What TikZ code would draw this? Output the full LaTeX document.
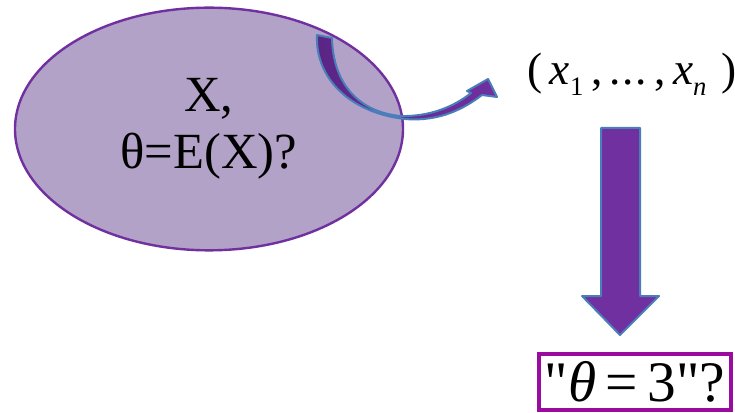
\documentclass[tikz,border=0pt]{standalone}
\usepackage{fontspec}
\setmainfont{Liberation Serif}
\usetikzlibrary{shapes.geometric}
\definecolor{PopFill}{HTML}{B3A2C7}
\definecolor{DeepPurple}{HTML}{7030A0}
\definecolor{DarkPlum}{HTML}{5A2585}
\definecolor{EdgeBlue}{HTML}{4A7EBB}
\definecolor{BoxMagenta}{HTML}{9A0CA0}
\newcommand\lowsub[1]{\raisebox{-0.55ex}{\fontsize{20}{20}\selectfont #1}}

\begin{document}
\begin{tikzpicture}[x=0.75pt, y=-0.75pt,
    every node/.style={align=center, inner sep=0pt},
    fatarrow/.style={draw=EdgeBlue, line width=1.5pt, line join=round}]
  \useasboundingbox (0,0) rectangle (735,413);
  % population
  \node[ellipse, draw=DeepPurple, line width=1.8pt, fill=PopFill,
        minimum width=291pt, minimum height=182pt,
        font=\fontsize{38}{42.75}\selectfont] (popul) at (209,129)
        {X,\\θ=E(X)?};
  % sample
  \node[font=\fontsize{34}{38}\selectfont] (sample) at (632,74)
        {(\,\textit{x}\lowsub{1}\,,\,.\kern1pt.\kern1pt.\,,\,\textit{x}\lowsub{\textit{n}}\,\,)};
  % estimate
  \node[draw=BoxMagenta, line width=3pt, minimum width=144pt, minimum height=42pt,
        font=\fontsize{43}{43}\selectfont] (estim) at (635,382)
        {\textquotedbl\textit{θ}\,=\,3\textquotedbl?};
  % curved arrow from the population to the sample
  \draw[fatarrow, left color=DarkPlum, right color=DeepPurple]
    (317,35) .. controls (315,78) and (350,113) .. (405,119)
    .. controls (440,122) and (465,108) .. (482,95)
    -- (497,97) -- (488,79) -- (467,91) -- (471,93)
    .. controls (455,106) and (430,117) .. (400,116)
    .. controls (360,112) and (333,85) .. (332,38) -- cycle;
  % down arrow from the sample to the estimate
  \draw[fatarrow, fill=DeepPurple]
    (601,128) -- (640,128) -- (640,296) -- (659,296) -- (620,335)
    -- (582,296) -- (601,296) -- cycle;
\end{tikzpicture}
\end{document}
